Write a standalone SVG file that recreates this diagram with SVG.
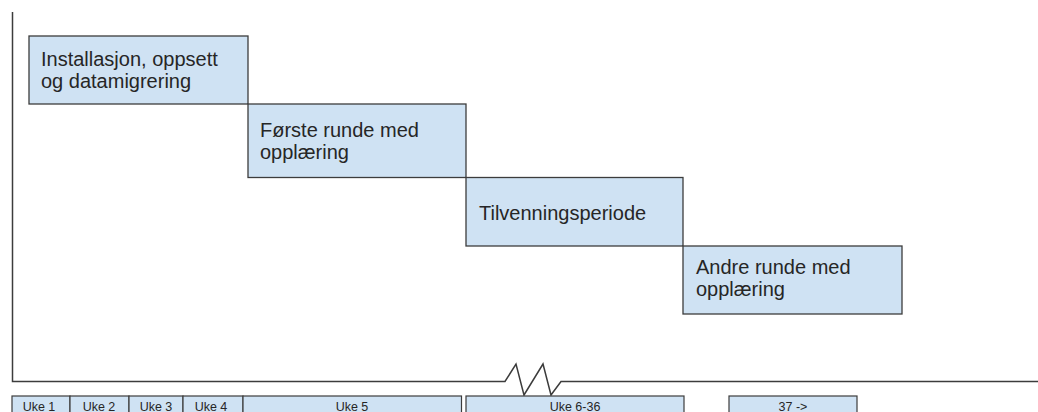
<svg xmlns="http://www.w3.org/2000/svg" width="1038" height="412" viewBox="0 0 1038 412">
  <style>
    .phase rect { fill: #cfe2f3; stroke: #3c3c3c; stroke-width: 1.3; }
    .phase text { font-family: "Liberation Sans", Arial, sans-serif; font-size: 20px; fill: #262626; }
    .week rect { fill: #cfe2f3; stroke: #3c3c3c; stroke-width: 1.2; }
    .week text { font-family: "Liberation Sans", Arial, sans-serif; font-size: 12.5px; fill: #262626; text-anchor: middle; }
    .axis { fill: none; stroke: #3c3c3c; stroke-width: 1.5; stroke-linejoin: miter; }
  </style>
  <rect width="1038" height="412" fill="#ffffff"/>

  <!-- axes with break mark -->
  <g id="connectors">
    <path class="axis" d="M12.5 12 V381.5 H505 L516 364 L524 395 L543 364 L551 395 L561 381.5 H1038"/>
  </g>

  <!-- phases -->
  <g id="phase1" class="phase">
    <rect x="29" y="36" width="219" height="68"/>
    <text x="41" y="66">Installasjon, oppsett</text>
    <text x="41" y="88">og datamigrering</text>
  </g>
  <g id="phase2" class="phase">
    <rect x="248" y="104" width="218" height="73.5"/>
    <text x="260" y="137">Første runde med</text>
    <text x="260" y="159">opplæring</text>
  </g>
  <g id="phase3" class="phase">
    <rect x="466" y="177.5" width="217" height="68.5"/>
    <text x="479" y="220">Tilvenningsperiode</text>
  </g>
  <g id="phase4" class="phase">
    <rect x="683" y="246" width="219" height="68"/>
    <text x="696" y="274">Andre runde med</text>
    <text x="696" y="296">opplæring</text>
  </g>

  <!-- week scale -->
  <g id="week1" class="week">
    <rect x="12" y="396" width="58" height="24"/>
    <text x="39" y="410.5">Uke 1</text>
  </g>
  <g id="week2" class="week">
    <rect x="70" y="396" width="59" height="24"/>
    <text x="99" y="410.5">Uke 2</text>
  </g>
  <g id="week3" class="week">
    <rect x="129" y="396" width="54" height="24"/>
    <text x="156" y="410.5">Uke 3</text>
  </g>
  <g id="week4" class="week">
    <rect x="183" y="396" width="60" height="24"/>
    <text x="211" y="410.5">Uke 4</text>
  </g>
  <g id="week5" class="week">
    <rect x="243" y="396" width="218.5" height="24"/>
    <text x="352" y="410.5">Uke 5</text>
  </g>
  <g id="week6-36" class="week">
    <rect x="466" y="396" width="218" height="24"/>
    <text x="575" y="410.5">Uke 6-36</text>
  </g>
  <g id="week37" class="week">
    <rect x="729" y="396" width="128" height="24"/>
    <text x="793" y="410.5">37 -&gt;</text>
  </g>
</svg>
